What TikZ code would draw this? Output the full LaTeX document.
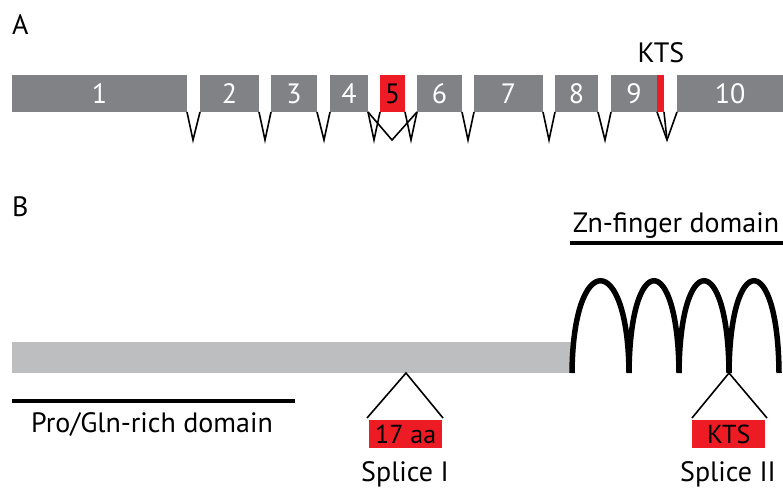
\documentclass[tikz,border=0pt]{standalone}
\usepackage{fontspec}
\setmainfont{PT Sans}
\definecolor{exongray}{HTML}{808285}
\definecolor{lightbar}{HTML}{BCBEC0}
\definecolor{kred}{HTML}{ED1C24}
\begin{document}
\begin{tikzpicture}[x=1pt,y=-1pt,
  exon/.style={fill=exongray, anchor=north west, minimum height=37pt, inner sep=0pt, outer sep=0pt, text=white, font=\fontsize{28}{28}\selectfont},
  redexon/.style={exon, fill=kred, text=black},
  intron/.style={draw=black, line width=1.6pt, line join=miter},
  lbl/.style={font=\fontsize{28}{28}\selectfont, inner sep=0pt},
  domline/.style={line width=4.5pt},
  finger/.style={line width=5.5pt},
  boxred/.style={fill=kred, anchor=north west, minimum width=73pt, minimum height=28pt, inner sep=0pt, font=\fontsize{26}{26}\selectfont}]
\useasboundingbox (0,0) rectangle (783,488);
% labels
\node[lbl, anchor=north west] (la) at (12,14) {A};
\node[lbl, anchor=north west] (lb) at (12,196) {B};
% exons
\node[exon, minimum width=175pt] (e1) at (12,75) {1};
\node[exon, minimum width=59pt] (e2) at (200,75) {2};
\node[exon, minimum width=46pt] (e3) at (271,75) {3};
\node[exon, minimum width=38pt] (e4) at (330,75) {4};
\node[redexon, minimum width=25pt] (e5) at (380,75) {5};
\node[exon, minimum width=45pt] (e6) at (417,75) {6};
\node[exon, minimum width=69pt] (e7) at (474,75) {7};
\node[exon, minimum width=43pt] (e8) at (555,75) {8};
\node[exon, minimum width=46pt] (e9) at (611,75) {9};
\node[redexon, minimum width=7pt] (kt) at (657,75) {};
\node[exon, minimum width=106pt] (e10) at (677,75) {10};
\node[lbl, anchor=base] (ktslbl) at (661,62) {KTS};
% intron vertices
\coordinate (v1) at (193,140);
\coordinate (v2) at (265,140);
\coordinate (v3) at (324,140);
\coordinate (v4) at (374,140);
\coordinate (v45) at (392,140);
\coordinate (v5) at (411,140);
\coordinate (v6) at (468,140);
\coordinate (v7) at (549,140);
\coordinate (v8) at (605,140);
\coordinate (v9) at (667,140);
\draw[intron] (e1.south east) -- (v1) -- (e2.south west);
\draw[intron] (e2.south east) -- (v2) -- (e3.south west);
\draw[intron] (e3.south east) -- (v3) -- (e4.south west);
\draw[intron] (e4.south east) -- (v4) -- (e5.south west);
\draw[intron] (e4.south east) -- (v45) -- (e6.south west);
\draw[intron] (e5.south east) -- (v5) -- (e6.south west);
\draw[intron] (e6.south east) -- (v6) -- (e7.south west);
\draw[intron] (e7.south east) -- (v7) -- (e8.south west);
\draw[intron] (e8.south east) -- (v8) -- (e9.south west);
\draw[intron] (e9.south east) -- (v9) -- (e10.south west);
\draw[intron] (kt.south east) -- (v9);
% protein
\node[fill=lightbar, anchor=north west, minimum width=560pt, minimum height=31pt, inner sep=0pt, outer sep=0pt] (bar) at (12,342) {};
\coordinate (f0) at (572,373);
\coordinate (f1) at (629,373);
\coordinate (f2) at (679,373);
\coordinate (f3) at (729,373);
\coordinate (f4) at (779,373);
\draw[finger] (f0) .. controls (573,250) and (628,250) .. (f1)
  .. controls (630,250) and (678,250) .. (f2)
  .. controls (680,250) and (728,250) .. (f3)
  .. controls (730,250) and (778,250) .. (f4);
% domains
\node[lbl, anchor=base] (zn) at (676,232) {Zn-finger domain};
\coordinate (zl) at (570,243);
\coordinate (zr) at (783,243);
\draw[domline] (zl) -- (zr);
\coordinate (pl) at (12,401);
\coordinate (pr) at (295,401);
\draw[domline] (pl) -- (pr);
\node[lbl, anchor=base] (pro) at (152,432) {Pro/Gln-rich domain};
% splice I
\coordinate (s1) at (406,373);
\node[boxred] (aa) at (369,420) {17 aa};
\coordinate (s1l) at (367,418);
\coordinate (s1r) at (443,418);
\draw[intron] (s1l) -- (s1) -- (s1r);
\node[lbl, anchor=base] (sp1) at (405,481) {Splice I};
% splice II
\coordinate (s2) at (729,373);
\node[boxred] (kts2) at (692,420) {KTS};
\coordinate (s2l) at (692,418);
\coordinate (s2r) at (767,418);
\draw[intron] (s2l) -- (s2) -- (s2r);
\node[lbl, anchor=base] (sp2) at (728,481) {Splice II};
\end{tikzpicture}
\end{document}
